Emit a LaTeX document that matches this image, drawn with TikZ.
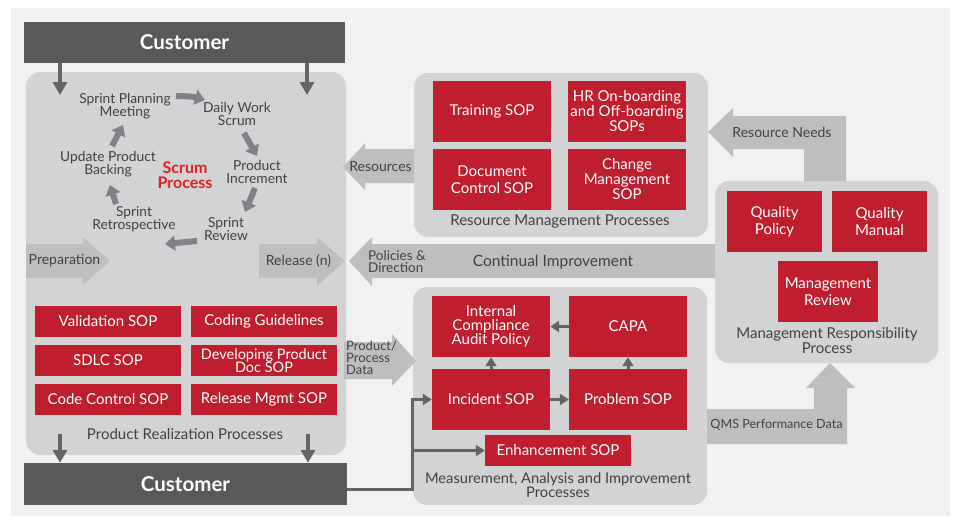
\documentclass[tikz,border=0pt]{standalone}
\usepackage{fontspec}
\setmainfont{Lato}
\usetikzlibrary{arrows.meta}
\definecolor{bgc}{HTML}{F1F1F2}
\definecolor{panelc}{HTML}{D1D3D4}
\definecolor{redc}{HTML}{BE1E2D}
\definecolor{darkc}{HTML}{58595B}
\definecolor{arrowc}{HTML}{BCBEC0}
\definecolor{linec}{HTML}{636466}
\definecolor{txtc}{HTML}{414042}
\definecolor{scrumred}{HTML}{E31E24}
\definecolor{cyclec}{HTML}{808285}
\newcommand\myfs[2]{\fontsize{#1}{#2}\selectfont}
\tikzset{
  redbox/.style={fill=redc, text=white, align=center, inner sep=0pt, font=\myfs{15}{15}},
  panel/.style={fill=panelc, rounded corners=14pt, inner sep=0pt},
  custbar/.style={fill=darkc, text=white, font=\bfseries\myfs{20.5}{22}, inner sep=0pt},
  lbl/.style={text=txtc, align=center, inner sep=0pt, font=\myfs{15}{14.5}},
  cyctxt/.style={text=txtc, align=center, inner sep=0pt, font=\myfs{13.8}{13}},
  flowtxt/.style={text=txtc, inner sep=0pt, font=\myfs{14}{12}},
  flow/.style={fill=arrowc},
  conn/.style={draw=linec, line width=3pt, -{Triangle[width=11pt,length=9pt]}},
  custarrow/.style={draw=linec, line width=3.5pt, -{Triangle[width=14pt,length=13pt]}},
  cyc/.style={draw=cyclec, line width=6pt, -{Triangle[width=15pt,length=10pt]}},
}
\begin{document}
\begin{tikzpicture}[x=1pt,y=-1pt]
\useasboundingbox (0,0) rectangle (954,517);
\fill[bgc] (11,8) rectangle (950,516);

% panels
\node[panel, minimum width=320pt, minimum height=383pt] (prp) at (186,263.5) {};
\node[panel, minimum width=294pt, minimum height=164pt] (rmp) at (561,155) {};
\node[panel, minimum width=223pt, minimum height=182pt] (mrp) at (826.5,272) {};
\node[panel, minimum width=294pt, minimum height=218pt] (mai) at (560,396) {};

% customer bars
\node[custbar, minimum width=321pt, minimum height=41pt] (cust1) at (184.5,42.5) {Customer};
\node[custbar, minimum width=323pt, minimum height=42pt] (cust2) at (185.5,484) {Customer};

% flow arrows (broad)
\fill[flow] (26,244) -- (83,244) -- (83,237) -- (110,261) -- (83,285) -- (83,278) -- (26,278) -- cycle;
\node[flowtxt] (prep) at (64.5,261) {Preparation};
\fill[flow] (259,244) -- (317,244) -- (317,237) -- (345,261) -- (317,286) -- (317,278) -- (259,278) -- cycle;
\node[flowtxt] (rel) at (298.5,261) {Release (n)};
\fill[flow] (715,244) -- (372,244) -- (372,237) -- (349,261) -- (372,286) -- (372,278) -- (715,278) -- cycle;
\node[flowtxt, align=left, anchor=west, font=\myfs{13.5}{12}] (pol) at (368,261.5) {Policies \&\\Direction};
\node[flowtxt, font=\myfs{15.5}{15}] (ci) at (553,262) {Continual Improvement};
\fill[flow] (414,149) -- (365,149) -- (365,143) -- (343,167) -- (365,190) -- (365,183) -- (414,183) -- cycle;
\node[flowtxt] (res) at (380.5,167) {Resources};
\fill[flow] (846,181) -- (846,116) -- (733,116) -- (733,108) -- (708,132) -- (733,157) -- (733,149) -- (804,149) -- (804,181) -- cycle;
\node[flowtxt] (rn) at (782,132) {Resource Needs};
\fill[flow] (707,409) -- (814,409) -- (814,388) -- (806,388) -- (830,363) -- (855,388) -- (847,388) -- (847,444) -- (707,444) -- cycle;
\node[flowtxt, font=\myfs{12.6}{12}] (qms) at (776.5,425) {QMS Performance Data};
\fill[flow] (344,342) -- (392,342) -- (392,334) -- (416,361) -- (392,386) -- (392,379) -- (344,379) -- cycle;
\node[flowtxt, align=left, anchor=west, font=\myfs{13}{11.8}] (ppd) at (346,358) {Product/\\Process\\Data};

% scrum cycle
\node[cyctxt] (spm) at (125,106) {Sprint Planning\\Meeting};
\node[cyctxt] (dws) at (237,113.5) {Daily Work\\Scrum};
\node[cyctxt] (pi) at (257,171.5) {Product\\Increment};
\node[cyctxt] (sr) at (226,229) {Sprint\\Review};
\node[cyctxt] (sretro) at (134,219.5) {Sprint\\Retrospective};
\node[cyctxt] (upb) at (108,164) {Update Product\\Backing};
\node[cyctxt, text=scrumred, font=\bfseries\myfs{16}{14.5}] (scrum) at (185,175) {Scrum\\Process};
\coordinate (c1a) at (176,96);  \coordinate (c1b) at (205,100);
\coordinate (c2a) at (244,133); \coordinate (c2b) at (257,156);
\coordinate (c3a) at (255,188); \coordinate (c3b) at (245,212);
\coordinate (c4a) at (197,241); \coordinate (c4b) at (165,244);
\coordinate (c5a) at (116,204); \coordinate (c5b) at (110,185);
\coordinate (c6a) at (112,146); \coordinate (c6b) at (123,125);
\draw[cyc] (c1a) to[bend left=8] (c1b);
\draw[cyc] (c2a) -- (c2b);
\draw[cyc] (c3a) -- (c3b);
\draw[cyc] (c4a) -- (c4b);
\draw[cyc] (c5a) -- (c5b);
\draw[cyc] (c6a) -- (c6b);

% product realization SOPs
\node[redbox, minimum width=146pt, minimum height=31pt] (val) at (108,321.5) {Validation SOP};
\node[redbox, minimum width=146pt, minimum height=31pt] (cod) at (264,321.5) {Coding Guidelines};
\node[redbox, minimum width=146pt, minimum height=31pt] (sdlc) at (108,360.5) {SDLC SOP};
\node[redbox, minimum width=146pt, minimum height=31pt, font=\myfs{14.5}{13.5}] (dev) at (264,360.5) {Developing Product\\Doc SOP};
\node[redbox, minimum width=146pt, minimum height=31pt] (cc) at (108,399.5) {Code Control SOP};
\node[redbox, minimum width=146pt, minimum height=31pt] (rm) at (264,399.5) {Release Mgmt SOP};
\node[lbl] (prpl) at (185,434) {Product Realization Processes};

% resource management
\node[redbox, minimum width=118pt, minimum height=61pt] (train) at (492,111.5) {Training SOP};
\node[redbox, minimum width=118pt, minimum height=61pt] (hr) at (627,111.5) {HR On-boarding\\and Off-boarding\\SOPs};
\node[redbox, minimum width=118pt, minimum height=61pt, font=\myfs{15}{17}] (doc) at (492,179.5) {Document\\Control SOP};
\node[redbox, minimum width=118pt, minimum height=61pt] (chg) at (627,179.5) {Change\\Management\\SOP};
\node[lbl] (rmpl) at (560,221) {Resource Management Processes};

% management responsibility
\node[redbox, minimum width=95pt, minimum height=61pt, font=\myfs{15}{17}] (qp) at (774.5,221.5) {Quality\\Policy};
\node[redbox, minimum width=95pt, minimum height=61pt, font=\myfs{15}{17}] (qmn) at (879.5,221.5) {Quality\\Manual};
\node[redbox, minimum width=100pt, minimum height=61pt, font=\myfs{15}{17}] (mr) at (828,291.5) {Management\\Review};
\node[lbl] (mrpl) at (827,340.5) {Management Responsibility\\Process};

% measurement
\node[redbox, minimum width=118pt, minimum height=61pt, font=\myfs{15}{14}] (ica) at (491,326.5) {Internal\\Compliance\\Audit Policy};
\node[redbox, minimum width=118pt, minimum height=61pt] (capa) at (628,326.5) {CAPA};
\node[redbox, minimum width=118pt, minimum height=61pt] (inc) at (491,399.5) {Incident SOP};
\node[redbox, minimum width=118pt, minimum height=61pt] (prob) at (628,399.5) {Problem SOP};
\node[redbox, minimum width=146pt, minimum height=31pt] (enh) at (558,450.5) {Enhancement SOP};
\node[lbl, font=\myfs{14.7}{14}] (mail) at (558,485) {Measurement, Analysis and Improvement\\Processes};

\draw[conn] (capa.west) -- (ica.east);
\draw[conn] (inc.north) -- (ica.south);
\draw[conn] (prob.north) -- (capa.south);
\draw[conn] (inc.east) -- (prob.west);

% customer connectors
\coordinate (jn) at (412,489);
\draw[conn] (cust2.east |- jn) -- (jn) |- (inc.west);
\draw[conn] (jn |- enh.west) -- (enh.west);
\coordinate (t1) at (60,95);  \coordinate (t2) at (307,95);
\draw[custarrow] (cust1.south -| t1) -- (t1);
\draw[custarrow] (cust1.south -| t2) -- (t2);
\coordinate (b1) at (60,434); \coordinate (b2) at (308,434);
\draw[custarrow] (b1) -- (b1 |- cust2.north);
\draw[custarrow] (b2) -- (b2 |- cust2.north);
\end{tikzpicture}
\end{document}
